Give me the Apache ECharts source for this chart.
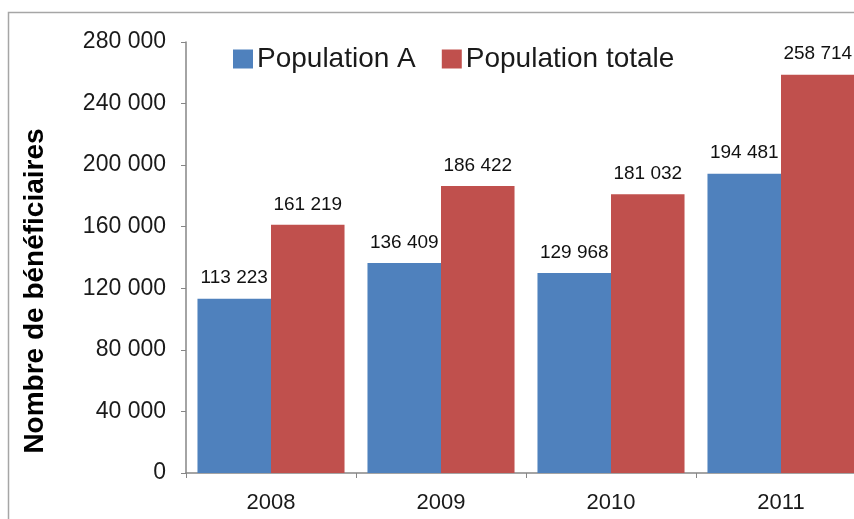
<!DOCTYPE html>
<html>
<head>
<meta charset="utf-8">
<script src="https://cdn.jsdelivr.net/npm/echarts@6/dist/echarts.min.js"></script>
<style>
html,body{margin:0;padding:0;background:#fff;}
#main{width:854px;height:519px;}
</style>
</head>
<body>
<div id="main"></div>
<script>
const categories = ['2008', '2009', '2010', '2011'];
const populationA = [113223, 136409, 129968, 194481];
const populationTotale = [161219, 186422, 181032, 258714];
const seriesNames = ['Population A', 'Population totale'];
const yAxisTitle = 'Nombre de bénéficiaires';

const FONT = "'Liberation Sans', Arial, sans-serif";
const fmt = v => String(v).replace(/\B(?=(\d{3})+(?!\d))/g, ' ');

const chart = echarts.init(document.getElementById('main'), null, {renderer: 'canvas'});
chart.setOption({
  animation: false,
  backgroundColor: '#fff',
  color: ['#4F81BD', '#C0504D'],
  grid: {left: 186, top: 42, height: 431, width: 680, containLabel: false, outerBoundsMode: 'none'},
  legend: {
    left: 233, top: 45, padding: 0,
    itemWidth: 20, itemHeight: 19, itemGap: 26,
    icon: 'rect',
    textStyle: {fontFamily: FONT, fontSize: 28, color: '#1a1a1a', padding: [0, 0, 0, -1]},
    data: seriesNames
  },
  graphic: [
    {type: 'rect', shape: {x: 8.5, y: 12.5, width: 1000, height: 1000}, style: {fill: 'none', stroke: '#a6a6a6', lineWidth: 1.5}, z: -1},
    {type: 'text', x: 35, y: 291, rotation: Math.PI / 2,
     style: {text: yAxisTitle, fontFamily: FONT, fontSize: 28, fontWeight: 'bold', fill: '#000', align: 'center', verticalAlign: 'middle'}}
  ],
  xAxis: {
    type: 'category',
    data: categories,
    axisLine: {lineStyle: {color: '#868686', width: 1.5}},
    axisTick: {show: true, length: 5, lineStyle: {color: '#868686'}},
    axisLabel: {fontFamily: FONT, fontSize: 22, color: '#1a1a1a', margin: 19}
  },
  yAxis: {
    type: 'value',
    min: 0, max: 280000, interval: 40000,
    axisLine: {show: true, lineStyle: {color: '#868686', width: 1.5}},
    axisTick: {show: true, length: 5, lineStyle: {color: '#868686'}},
    splitLine: {show: false},
    axisLabel: {fontFamily: FONT, fontSize: 23, color: '#1a1a1a', margin: 20, formatter: fmt}
  },
  series: [
    {name: seriesNames[0], type: 'bar', data: populationA, barGap: '0%', barCategoryGap: '13.5%',
     label: {show: true, position: 'top', distance: 11, fontFamily: FONT, fontSize: 19, color: '#111', formatter: p => fmt(p.value)}},
    {name: seriesNames[1], type: 'bar', data: populationTotale, barGap: '0%', barCategoryGap: '13.5%',
     label: {show: true, position: 'top', distance: 11, fontFamily: FONT, fontSize: 19, color: '#111', formatter: p => fmt(p.value)}}
  ]
});
</script>
</body>
</html>
